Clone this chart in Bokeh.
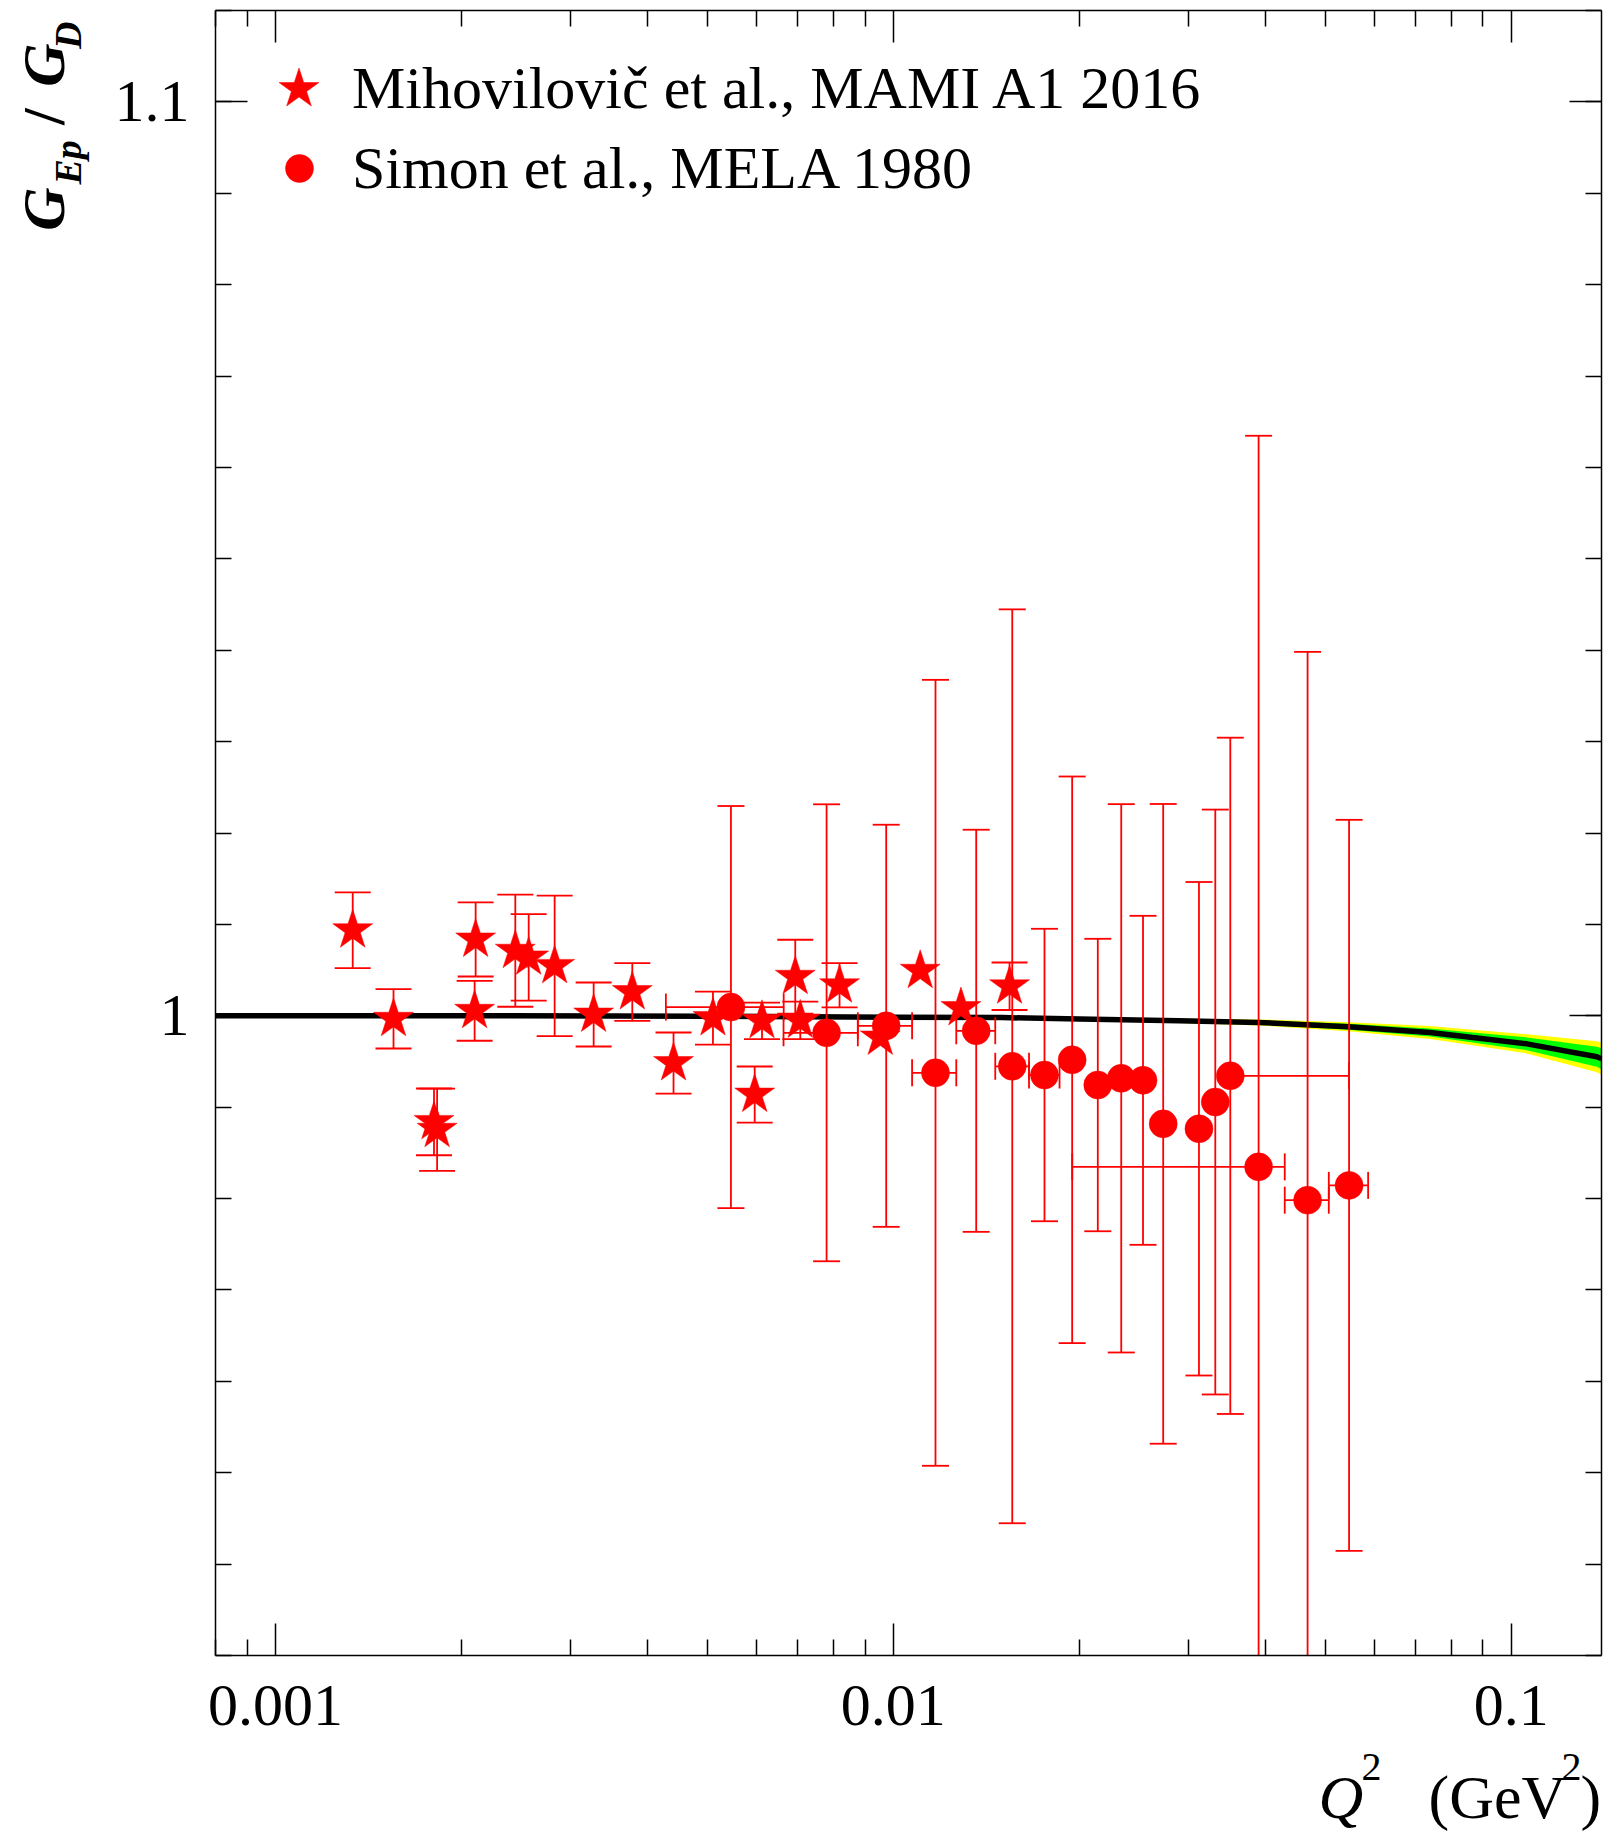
import numpy as np
from bokeh.plotting import figure
from bokeh.layouts import column, row
from bokeh.models import (FixedTicker, LinearAxis, LogAxis, Legend, LegendItem, Range1d,
                          ColumnDataSource)
from bokeh.core.properties import value
from bokeh.embed import file_html
from bokeh.resources import INLINE

# ---------------- data ----------------
# Mihovilovic et al., MAMI A1 2016 (stars)
q2_mami = [0.001334, 0.001553, 0.001806, 0.001827, 0.002109, 0.002101, 0.002445, 0.002570,
           0.002831, 0.003274, 0.003781, 0.004409, 0.005107, 0.005966, 0.006131, 0.006940,
           0.007071, 0.008185, 0.009527, 0.011055, 0.012868, 0.015422]
r_mami = [1.00936, 0.99967, 0.98839, 0.98753, 1.00835, 1.00055, 1.00712, 1.00639,
          1.00546, 1.00014, 1.00260, 0.99483, 0.99975, 0.99138, 0.99945, 1.00427,
          0.99949, 1.00334, 0.99763, 1.00493, 1.00085, 1.00323]
err_mami = [0.00414, 0.00325, 0.00365, 0.00450, 0.00405, 0.00328, 0.00613, 0.00474,
            0.00768, 0.00350, 0.00316, 0.00334, 0.00290, 0.00307, 0.00200, 0.00405,
            0.00205, 0.00243, 0.0, 0.0, 0.0, 0.00260]

# Simon et al., MELA 1980 (circles)
q2_mela = [0.005461, 0.007799, 0.009739, 0.011703, 0.013620, 0.015578, 0.017567, 0.019475,
           0.021427, 0.023383, 0.025359, 0.027340, 0.031238, 0.033197, 0.035107, 0.039012,
           0.046824, 0.054653]
r_mela = [1.000953, 0.998139, 0.998905, 0.993759, 0.998358, 0.994471, 0.993518, 0.995182,
          0.992423, 0.993157, 0.992938, 0.988175, 0.987638, 0.990562, 0.993430, 0.983467,
          0.979820, 0.981441]
err_mela = [0.022, 0.025, 0.022, 0.043, 0.022, 0.050, 0.016, 0.031, 0.016, 0.030,
            0.018, 0.035, 0.027, 0.032, 0.037, 0.080, 0.060, 0.040]
xlo_mela = [0.001176, 0.001156, 0.000977, 0.000978, 0.000975, 0.000956, 0.000984, 0.0,
            0.0, 0.0, 0.0, 0.0, 0.0, 0.0, 0.0, 0.019530, 0.003820, 0.003976]
xhi_mela = [0.001186, 0.000963, 0.000986, 0.000942, 0.001002, 0.001005, 0.001013, 0.0,
            0.0, 0.0, 0.0, 0.0, 0.0, 0.0, 0.019546, 0.003992, 0.003853, 0.004021]

# fit curve with uncertainty bands
q2_fit = [0.0008, 0.002, 0.005, 0.01, 0.015, 0.02, 0.029, 0.039, 0.0545, 0.0739,
          0.0866, 0.106, 0.1376, 0.14]
r_fit = [1.0, 1.0, 0.99995, 0.99985, 0.9998, 0.99965, 0.99945, 0.99927, 0.9988, 0.99817,
         0.99762, 0.99693, 0.99551, 0.9953]
green_hw = [0.0, 0.0, 0.00003, 0.00005, 0.00008, 0.00011, 0.00015, 0.00022, 0.00032, 0.00045,
            0.00055, 0.0007, 0.0011, 0.00115]
yellow_hw = [0.0, 0.0, 0.00005, 0.0001, 0.00013, 0.00017, 0.00023, 0.00033, 0.00048, 0.0007,
             0.00085, 0.00105, 0.0017, 0.00175]

x_ticks = [0.001, 0.01, 0.1]
x_tick_labels = ["0.001", "0.01", "0.1"]
y_ticks = [1.0, 1.1]
y_tick_labels = ["1", "1.1"]

label_mami = "Mihovilovič et al., MAMI A1 2016"
label_mela = "Simon et al., MELA 1980"

# y title pieces (rotated): text, size, style, centre page x, centre page y
ytitle_parts = [("G", "60px", "bold italic", 43, 200), ("Ep", "38px", "bold italic", 67, 153),
                ("/", "60px", "bold", 43, 107), ("G", "60px", "bold italic", 43, 55),
                ("D", "38px", "bold italic", 67, 25)]
# x title pieces: text, left page x, baseline page y
xtitle_main = [("(GeV", 1428, 1813), (")", 1580, 1813)]
xtitle_italic = [("Q", 1318, 1813)]
xtitle_sup = [("2", 1361, 1783), ("2", 1561, 1783)]

# ---------------- layout constants (page pixels) ----------------
XMIN, XMAX, YMIN, YMAX = 0.0008, 0.14, 0.93, 1.11
FONT = "Liberation Serif"
RED = "#ff0000"
FL, FW = 215, 1386      # frame left / width
FT, FH = 10, 1645       # frame top / height
PAGE_W = 1606
YT_W = 100              # y-title strip width
MAIN_BOTTOM = 2
MAIN_H = FT + FH + MAIN_BOTTOM     # 1657
XS_H = 180                         # strip below (tick labels + x title), ends at 1837
RENDER_SHIFT = 17                  # observed drop of alphabetic-baseline text below its anchor
TICK_BASE = 1722                   # page y of tick-label baseline

lx0, lx1 = np.log10(XMIN), np.log10(XMAX)


def dx(px):
    return 10 ** (lx0 + (px - FL) / FW * (lx1 - lx0))


p = figure(width=PAGE_W - YT_W, height=MAIN_H, x_axis_type="log", x_range=(XMIN, XMAX),
           y_range=(YMIN, YMAX), output_backend="svg", toolbar_location=None,
           min_border_left=FL - YT_W, min_border_right=PAGE_W - FL - FW, min_border_top=FT,
           min_border_bottom=MAIN_BOTTOM)
p.xgrid.visible = False
p.ygrid.visible = False
p.outline_line_color = None
p.background_fill_color = "white"
p.border_fill_color = "white"

x_minor = [m * d for d in (1e-4, 1e-3, 1e-2, 1e-1) for m in range(2, 10)]
y_minor = [round(0.93 + 0.01 * k, 2) for k in range(0, 19)]
xt = FixedTicker(ticks=x_ticks, minor_ticks=x_minor)
yt = FixedTicker(ticks=y_ticks, minor_ticks=y_minor)


def style(ax, labels):
    ax.axis_line_color = "black"
    ax.axis_line_width = 1.5
    ax.major_tick_in = 32
    ax.major_tick_out = 0
    ax.minor_tick_in = 16
    ax.minor_tick_out = 0
    ax.major_tick_line_color = "black"
    ax.major_tick_line_width = 1.5
    ax.minor_tick_line_color = "black"
    ax.minor_tick_line_width = 1.5
    ax.major_label_text_font = FONT
    ax.major_label_text_font_size = "60px"
    ax.major_label_text_color = "black"
    if not labels:
        ax.major_label_text_color = None
        ax.major_label_text_font_size = "1px"
        ax.major_label_standoff = 0


bx = p.xaxis[0]
bx.ticker = xt
style(bx, False)

ly = p.yaxis[0]
ly.ticker = yt
ly.major_label_overrides = dict(zip(y_ticks, y_tick_labels))
style(ly, True)
ly.major_label_standoff = 26

tx = LogAxis(ticker=xt)
style(tx, False)
p.add_layout(tx, "above")
ry = LinearAxis(ticker=yt)
style(ry, False)
p.add_layout(ry, "right")

# ---------------- curve + bands ----------------
qf = np.array(q2_fit)
rf = np.array(r_fit)
p.varea(x=qf, y1=rf - np.array(yellow_hw), y2=rf + np.array(yellow_hw), fill_color="#ffff00")
p.varea(x=qf, y1=rf - np.array(green_hw), y2=rf + np.array(green_hw), fill_color="#00ff00")
p.line(qf, rf, line_color="black", line_width=5.5)

# ---------------- error bars ----------------
LW = 1.8
STAR, CIRC = 42, 28
xm, ym, em = np.array(q2_mami), np.array(r_mami), np.array(err_mami)
k = em > 0
p.segment(x0=xm[k], y0=ym[k] - em[k], x1=xm[k], y1=ym[k] + em[k], line_color=RED, line_width=LW)
p.scatter(np.concatenate([xm[k], xm[k]]), np.concatenate([ym[k] - em[k], ym[k] + em[k]]),
          marker="dash", size=36, line_color=RED, line_width=LW)

xc, yc, ec = np.array(q2_mela), np.array(r_mela), np.array(err_mela)
lo, hi = np.array(xlo_mela), np.array(xhi_mela)
p.segment(x0=xc, y0=yc - ec, x1=xc, y1=yc + ec, line_color=RED, line_width=LW)
p.scatter(np.concatenate([xc, xc]), np.concatenate([yc - ec, yc + ec]),
          marker="dash", size=27, line_color=RED, line_width=LW)
h = (lo + hi) > 0
p.segment(x0=xc[h] - lo[h], y0=yc[h], x1=xc[h] + hi[h], y1=yc[h], line_color=RED, line_width=LW)
hl = lo > 0
hh = hi > 0
p.scatter(np.concatenate([xc[hl] - lo[hl], xc[hh] + hi[hh]]),
          np.concatenate([yc[hl], yc[hh]]),
          marker="dash", angle=np.pi / 2, size=27, line_color=RED, line_width=LW)

# ---------------- markers ----------------
star_r = p.scatter(xm, ym, marker="star", size=STAR, fill_color=RED, line_color=RED, line_width=0.5)
circ_r = p.scatter(xc, yc, marker="circle", size=CIRC, fill_color=RED, line_color=RED, line_width=0.5)

# ---------------- legends (one per entry so that marker sizes can differ) ----------------
for item_label, rend, gw, gh, loc, stand in [
        (label_mami, star_r, 105, 105, (31, 1514), 1),
        (label_mela, circ_r, 70, 90, (49, 1442), 18)]:
    lg = Legend(items=[LegendItem(label=item_label, renderers=[rend])], location=loc,
                glyph_width=gw, glyph_height=gh, label_standoff=stand,
                label_text_font=FONT, label_text_font_size="60px", label_text_color="black",
                background_fill_alpha=0, border_line_alpha=0, padding=0, margin=0, spacing=0)
    p.add_layout(lg)


# ---------------- y-title strip (left) ----------------
def blank(f):
    f.xgrid.visible = False
    f.ygrid.visible = False
    f.outline_line_color = None
    f.background_fill_color = "white"
    f.border_fill_color = "white"
    return f


yts = blank(figure(width=YT_W, height=MAIN_H, x_range=Range1d(0, YT_W), y_range=Range1d(0, MAIN_H),
                   output_backend="svg", toolbar_location=None, min_border=0, title=None,
                   x_axis_location=None, y_axis_location=None))
ysrc = ColumnDataSource(dict(
    t=[a[0] for a in ytitle_parts], fs=[a[1] for a in ytitle_parts],
    st=[a[2] for a in ytitle_parts], x=[a[3] for a in ytitle_parts],
    y=[MAIN_H - a[4] for a in ytitle_parts]))
yts.text(x="x", y="y", text="t", source=ysrc, angle=np.pi / 2, text_font=value(FONT),
         text_font_size="fs", text_font_style="st", text_color="black",
         text_align="center", text_baseline="middle")

# ---------------- strip below: tick labels (log x scale aligned with frame) + x title ----------------
xs = blank(figure(width=PAGE_W, height=XS_H, x_axis_type="log",
                  x_range=Range1d(dx(0), dx(PAGE_W)), y_range=Range1d(0, XS_H),
                  output_backend="svg", toolbar_location=None, min_border=0, title=None,
                  x_axis_location=None, y_axis_location=None))


def sy(py):
    return MAIN_H + XS_H - (py - RENDER_SHIFT)


xs.text(x=x_ticks, y=[sy(TICK_BASE)] * len(x_ticks), text=x_tick_labels,
        text_font=value(FONT), text_font_size=value("60px"), text_color="black",
        text_align="center", text_baseline="alphabetic")
xs.text(x=[dx(a[1]) for a in xtitle_italic], y=[sy(a[2]) for a in xtitle_italic],
        text=[a[0] for a in xtitle_italic], text_font=value(FONT),
        text_font_size=value("62px"), text_font_style="italic", text_color="black",
        text_align="left", text_baseline="alphabetic")
xs.text(x=[dx(a[1]) for a in xtitle_main], y=[sy(a[2]) for a in xtitle_main],
        text=[a[0] for a in xtitle_main], text_font=value(FONT),
        text_font_size=value("62px"), text_color="black",
        text_align="left", text_baseline="alphabetic")
xs.text(x=[dx(a[1]) for a in xtitle_sup], y=[sy(a[2]) for a in xtitle_sup],
        text=[a[0] for a in xtitle_sup], text_font=value(FONT),
        text_font_size=value("40px"), text_color="black",
        text_align="left", text_baseline="alphabetic")

layout = column(row(yts, p, spacing=0), xs, spacing=0)
open("out.html", "w").write(file_html(layout, INLINE))
